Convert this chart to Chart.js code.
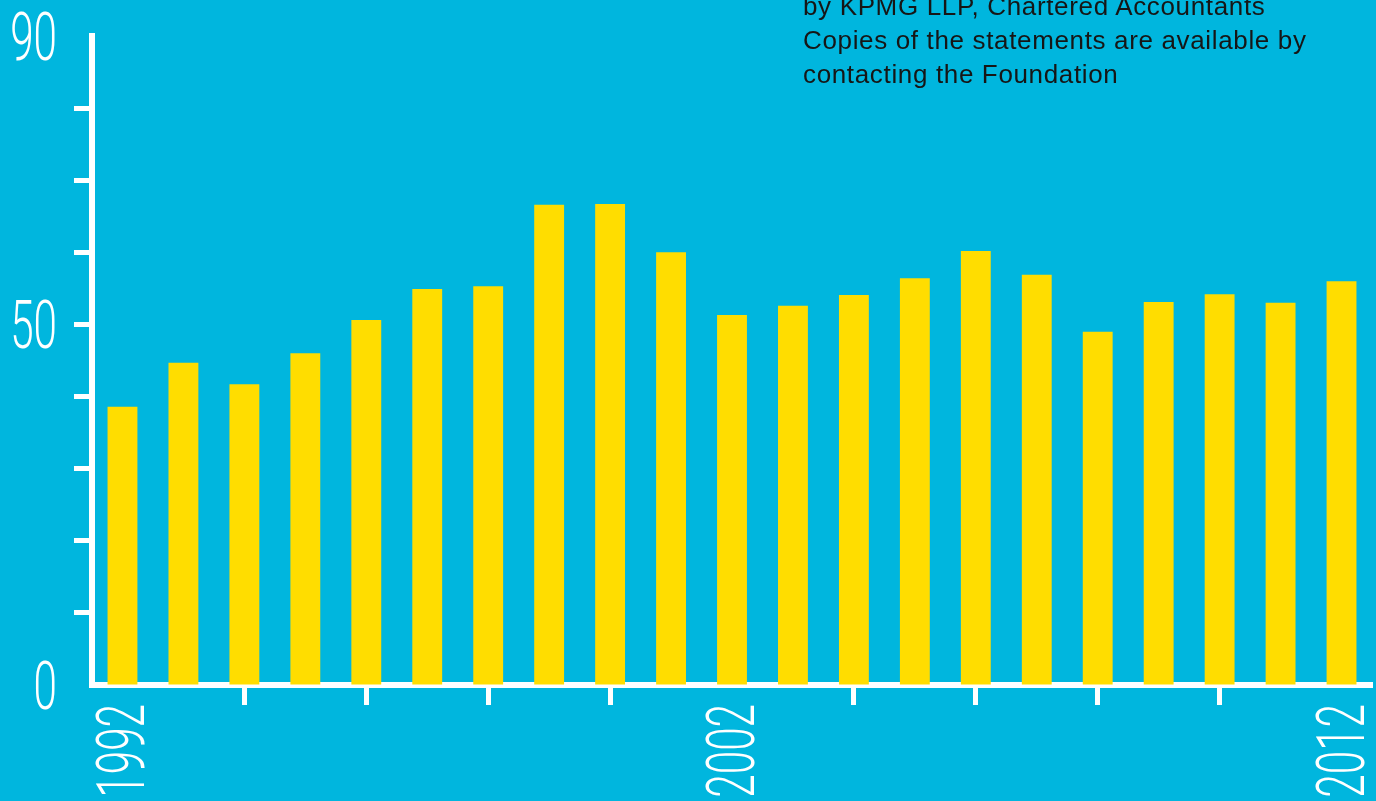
<!DOCTYPE html>
<html lang="en">
<head>
    <meta charset="UTF-8">
    <title>Annual chart 1992-2012</title>
    <script src="https://cdn.jsdelivr.net/npm/chart.js"></script>
    <style>
        html, body { margin: 0; padding: 0; background: #00b6de; overflow: hidden; }
        #wrap { position: relative; width: 1376px; height: 801px; }
        #note {
            position: absolute; left: 803px; top: -11px;
            font-family: "Liberation Sans", Arial, sans-serif;
            font-size: 26px; line-height: 34px; color: #161616;
            letter-spacing: 0.65px;
            white-space: nowrap;
        }
    </style>
</head>
<body>
<div id="wrap">
    <canvas id="chart" width="1376" height="801"></canvas>
    <div id="note">
        by KPMG LLP, Chartered Accountants<br>
        Copies of the statements are available by<br>
        contacting the Foundation
    </div>
</div>
<script>
    const years = ['1992','1993','1994','1995','1996','1997','1998','1999','2000','2001','2002',
                   '2003','2004','2005','2006','2007','2008','2009','2010','2011','2012'];
    const values = [38.6, 44.7, 41.7, 46.0, 50.6, 54.9, 55.3, 66.6, 66.7, 60.0, 51.3,
                    52.6, 54.1, 56.4, 60.2, 56.9, 49.0, 53.1, 54.2, 53.0, 56.0];
    const yLabels = [0, 50, 90];
    const xLabelIndexes = [0, 10, 20];

    const labelFont = '300 67px Roboto, "Liberation Sans Narrow", sans-serif';
    const squeeze = 0.63;

    // tall condensed labels, placed with the chart's own scales
    const axisLabels = {
        id: 'axisLabels',
        afterDraw(chart) {
            const ctx = chart.ctx;
            const xs = chart.scales.x, ys = chart.scales.y;
            ctx.save();
            ctx.font = labelFont;
            ctx.fillStyle = '#ffffff';
            ctx.textBaseline = 'alphabetic';
            ctx.textAlign = 'right';
            yLabels.forEach(v => {
                ctx.save();
                ctx.translate(57, ys.getPixelForValue(v));
                ctx.scale(squeeze, 1);
                ctx.fillText(String(v), 0, 24);
                ctx.restore();
            });
            xLabelIndexes.forEach(i => {
                ctx.save();
                ctx.translate(xs.getPixelForValue(i) - 2, 704);
                ctx.rotate(-Math.PI / 2);
                ctx.scale(squeeze, 1);
                ctx.fillText(years[i], 0, 24);
                ctx.restore();
            });
            ctx.restore();
        }
    };

    new Chart(document.getElementById('chart'), {
        type: 'bar',
        data: {
            labels: years,
            datasets: [{
                data: values,
                backgroundColor: '#ffdd00',
                borderWidth: 0,
                barPercentage: 0.49,
                categoryPercentage: 1
            }]
        },
        options: {
            responsive: false,
            animation: false,
            layout: { padding: { left: 74, right: 4, top: 36, bottom: 96 } },
            plugins: { legend: { display: false }, tooltip: { enabled: false } },
            scales: {
                x: {
                    offset: true,
                    grid: {
                        offset: false,
                        drawOnChartArea: false,
                        tickLength: 20,
                        tickWidth: 5,
                        tickColor: c => (c.index % 2 === 0 && c.index % 10 !== 0) ? '#ffffff' : 'rgba(0,0,0,0)'
                    },
                    border: { color: '#ffffff', width: 6 },
                    ticks: { display: false, autoSkip: false }
                },
                y: {
                    min: 0,
                    max: 90,
                    grid: {
                        drawOnChartArea: false,
                        tickLength: 18,
                        tickWidth: 5,
                        tickColor: c => (c.tick && (c.tick.value === 0 || c.tick.value === 90)) ? 'rgba(0,0,0,0)' : '#ffffff'
                    },
                    border: { color: '#ffffff', width: 6 },
                    ticks: { display: false, stepSize: 10 }
                }
            }
        },
        plugins: [axisLabels]
    });
</script>
</body>
</html>
